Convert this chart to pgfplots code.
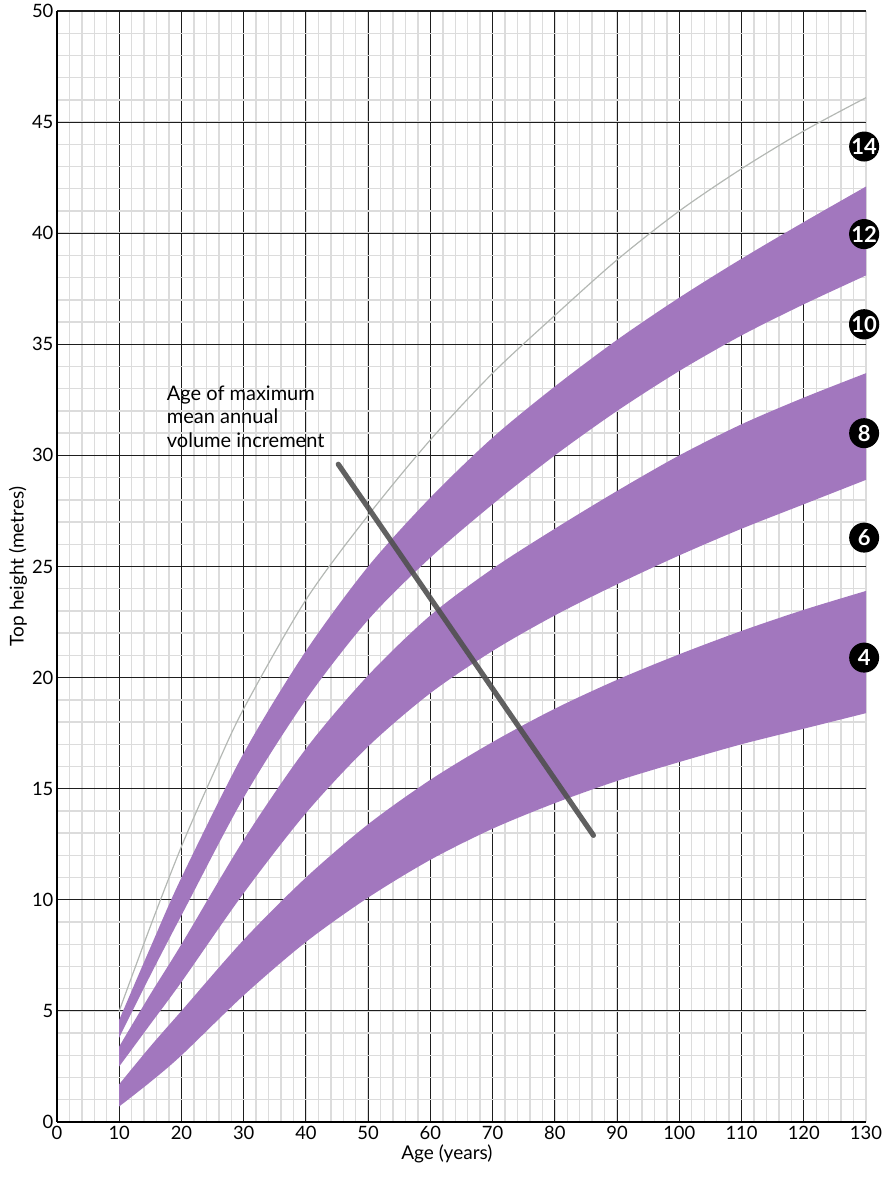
\documentclass[border=0pt]{standalone}
\usepackage{fontspec}
\setmainfont{Lato}
\usepackage{pgfplots}
\pgfplotsset{compat=1.18}
\usepgfplotslibrary{fillbetween}

\definecolor{bandpurple}{HTML}{A277BE}
\definecolor{majorgrid}{HTML}{1E1E1E}
\definecolor{minorgrid}{HTML}{DCDCDC}
\definecolor{topline}{HTML}{B4B8B4}
\definecolor{mailine}{HTML}{505050}

\begin{document}
\begin{tikzpicture}
\begin{axis}[
  scale only axis, width=404.5pt, height=555.5pt,
  xmin=0, xmax=130, ymin=0, ymax=50,
  axis x line*=bottom, axis y line*=left,
  axis line style={black, line width=0.7pt},
  xtick={0,10,...,120}, extra x ticks={130},
  extra x tick style={grid=none},
  ytick={0,5,...,50},
  minor xtick={2,4,...,130},
  minor ytick={1,2,...,49},
  major tick length=0pt, minor tick length=0pt,
  grid=both,
  major grid style={majorgrid, line width=0.55pt},
  minor grid style={minorgrid, line width=0.7pt},
  /pgf/number format/assume math mode=true,
  tick label style={font=\fontsize{9.2}{10}\selectfont},
  yticklabel style={inner sep=1.6pt},
  xticklabel style={inner sep=2pt},
  xlabel={Age (years)}, ylabel={Top height (metres)},
  label style={font=\fontsize{9.5}{11}\selectfont},
  xlabel style={at={([yshift=-19pt]axis description cs:0.482,0)}, anchor=base},
  ylabel style={at={([xshift=-19.5pt]axis description cs:0,0.5)}, anchor=center},
  clip=false,
]
\coordinate (sw) at (rel axis cs:0,0);
\coordinate (ne) at (rel axis cs:1,1);

% yield class 12 band
\addplot[name path=aU, draw=none, smooth] coordinates {
 (10,4.6) (15,7.85) (20,11.0) (30,16.6) (40,21.2) (50,25.0) (60,28.1)
 (70,30.8) (80,33.1) (90,35.2) (100,37.1) (110,38.85) (120,40.5) (130,42.1)};
\addplot[name path=aL, draw=none, smooth] coordinates {
 (10,3.8) (15,6.6) (20,9.3) (30,14.6) (40,19.0) (50,22.6) (60,25.4)
 (70,27.8) (80,30.0) (90,32.0) (100,33.8) (110,35.4) (120,36.8) (130,38.1)};
\addplot[bandpurple] fill between[of=aU and aL];

% yield class 8 band
\addplot[name path=bU, draw=none, smooth] coordinates {
 (10,3.4) (15,5.75) (20,8.0) (30,12.7) (40,16.8) (50,20.1) (60,22.8)
 (70,24.9) (80,26.7) (90,28.4) (100,30.0) (110,31.4) (120,32.6) (130,33.7)};
\addplot[name path=bL, draw=none, smooth] coordinates {
 (10,2.5) (15,4.4) (20,6.3) (30,10.3) (40,13.9) (50,16.9) (60,19.3)
 (70,21.2) (80,22.8) (90,24.2) (100,25.5) (110,26.7) (120,27.8) (130,28.9)};
\addplot[bandpurple] fill between[of=bU and bL];

% yield class 4 band
\addplot[name path=cU, draw=none, smooth] coordinates {
 (10,1.7) (15,3.4) (20,5.0) (30,8.2) (40,11.0) (50,13.4) (60,15.4)
 (70,17.1) (80,18.6) (90,19.9) (100,21.05) (110,22.1) (120,23.05) (130,23.9)};
\addplot[name path=cL, draw=none, smooth] coordinates {
 (10,0.7) (15,1.8) (20,3.0) (30,5.7) (40,8.1) (50,10.1) (60,11.8)
 (70,13.2) (80,14.35) (90,15.35) (100,16.2) (110,17.0) (120,17.7) (130,18.4)};
\addplot[bandpurple] fill between[of=cU and cL];

% yield class 14 curve
\addplot[topline, line width=0.6pt, smooth] coordinates {
 (10,5.0) (15,8.8) (20,12.4) (25,15.6) (30,18.6) (40,23.5) (50,27.3) (60,30.7)
 (70,33.7) (80,36.3) (90,38.8) (100,41.0) (110,42.9) (120,44.6) (130,46.1)};

% age of maximum mean annual increment
\addplot[mailine, line width=2.6pt, line cap=round, opacity=0.9] coordinates {
 (45.2,29.6) (86.2,12.9)};

\node[anchor=base west, inner sep=0, font=\fontsize{10}{12}\selectfont] at (axis cs:17.6,32.49) {Age of maximum};
\node[anchor=base west, inner sep=0, font=\fontsize{10}{12}\selectfont] at (axis cs:17.6,31.43) {mean annual};
\node[anchor=base west, inner sep=0, font=\fontsize{10}{12}\selectfont] at (axis cs:17.6,30.36) {volume increment};

\tikzset{yc/.style={circle, fill=black, text=white, minimum size=15pt, inner sep=0pt,
  font=\bfseries\fontsize{11}{11}\selectfont}}
\node[yc] at (axis cs:129.7,43.9) {14};
\node[yc] at (axis cs:129.7,39.96) {12};
\node[yc] at (axis cs:129.7,35.9) {10};
\node[yc] at (axis cs:129.7,31.0) {8};
\node[yc] at (axis cs:129.7,26.3) {6};
\node[yc] at (axis cs:129.7,20.9) {4};
\end{axis}
\pgfresetboundingbox
\path ([shift={(-28.5pt,-28pt)}]sw) rectangle ([shift={(13.5pt,5.5pt)}]ne);
\end{tikzpicture}
\end{document}
